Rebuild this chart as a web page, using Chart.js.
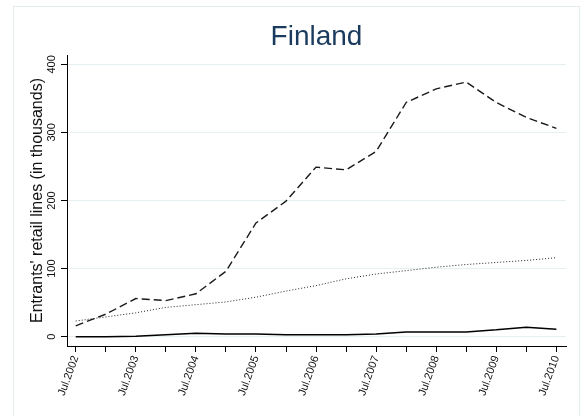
<!DOCTYPE html>
<html>
<head>
<meta charset="utf-8">
<script src="https://cdn.jsdelivr.net/npm/chart.js@4"></script>
<style>
  html, body { margin: 0; padding: 0; background: #fff; }
  canvas { display: block; }
</style>
</head>
<body>
<canvas id="finlandChart" width="585" height="416"></canvas>
<script>
// half-year periods, labels shown only for July
const periods = ["Jul.2002", "Jan.2003", "Jul.2003", "Jan.2004", "Jul.2004", "Jan.2005", "Jul.2005", "Jan.2006",
	"Jul.2006", "Jan.2007", "Jul.2007", "Jan.2008", "Jul.2008", "Jan.2009", "Jul.2009", "Jan.2010", "Jul.2010"];

// Entrants' retail lines (in thousands)
const dashedSeries = [16, 33, 56, 53, 63, 96, 167, 199, 249, 245, 272, 344, 364, 374, 344, 322, 306];
const dottedSeries = [23, 29, 35, 43, 47, 51, 58, 67, 75, 85, 92, 97, 102, 106, 109, 112, 116];
const solidSeries = [0, 0, 0.5, 3, 5, 4, 4, 3, 3, 3, 4, 7, 7, 7, 10, 14, 11];

const yTicks = [0, 100, 200, 300, 400];

const toPoints = arr => arr.map((v, i) => ({ x: i, y: v }));

// faint outer frame + title centred on the plot
const framePlugin = {
	id: 'frame',
	beforeDraw(chart) {
		const ctx = chart.ctx;
		ctx.save();
		ctx.fillStyle = '#fff';
		ctx.fillRect(0, 0, chart.width, chart.height);
		ctx.strokeStyle = '#e4ecee';
		ctx.lineWidth = 1;
		ctx.strokeRect(13.5, 6.5, 566, 420);
		ctx.restore();
	},
	afterDraw(chart) {
		const ctx = chart.ctx;
		const area = chart.chartArea;
		ctx.save();
		ctx.fillStyle = '#1a3a5e';
		ctx.font = '28px "Liberation Sans", Arial, sans-serif';
		ctx.textAlign = 'center';
		ctx.textBaseline = 'alphabetic';
		ctx.fillText('Finland', (area.left + area.right) / 2, 45);
		ctx.restore();
	}
};

const config = {
	type: 'line',
	data: {
		datasets: [{
			data: toPoints(dashedSeries),
			borderColor: '#1a1a1a',
			borderWidth: 1.4,
			borderDash: [8, 4]
		}, {
			data: toPoints(dottedSeries),
			borderColor: '#222',
			borderWidth: 1,
			borderDash: [1, 2]
		}, {
			data: toPoints(solidSeries),
			borderColor: '#000',
			borderWidth: 1.5
		}]
	},
	options: {
		responsive: false,
		animation: false,
		events: [],
		layout: { padding: { left: 13, right: 19, top: 55, bottom: 0 } },
		elements: {
			point: { radius: 0 },
			line: { tension: 0, fill: false }
		},
		plugins: {
			legend: { display: false },
			title: { display: false },
			tooltip: { enabled: false }
		},
		scales: {
			x: {
				type: 'linear',
				min: -0.29,
				max: 16.32,
				afterFit(scale) {
					scale.height = 70;
					scale.paddingLeft = 0;
					scale.paddingRight = 0;
				},
				grid: { drawOnChartArea: false, drawTicks: true, tickLength: 6, tickColor: '#000' },
				border: { display: true, color: '#000', width: 1 },
				ticks: {
					stepSize: 1,
					includeBounds: false,
					autoSkip: false,
					minRotation: 70,
					maxRotation: 70,
					padding: 2,
					color: '#111',
					font: { family: '"Liberation Sans", Arial, sans-serif', size: 11 },
					callback: v => (Number.isInteger(v) && periods[v].startsWith('Jul')) ? periods[v] : ''
				}
			},
			y: {
				min: -13.7,
				max: 413.7,
				afterFit(scale) {
					scale.width = 54;
				},
				afterBuildTicks(scale) {
					scale.ticks = yTicks.map(v => ({ value: v }));
				},
				grid: { color: '#e6eff1', lineWidth: 1, drawTicks: true, tickLength: 6, tickColor: '#000' },
				border: { display: true, color: '#000', width: 1 },
				title: {
					display: true,
					text: "Entrants' retail lines (in thousands)",
					color: '#111',
					font: { family: '"Liberation Sans", Arial, sans-serif', size: 16 },
					padding: { top: 15, bottom: 0 }
				},
				ticks: {
					minRotation: 90,
					maxRotation: 90,
					crossAlign: 'center',
					padding: 0,
					color: '#111',
					font: { family: '"Liberation Sans", Arial, sans-serif', size: 11 }
				}
			}
		}
	},
	plugins: [framePlugin]
};

const finlandChart = new Chart(document.getElementById('finlandChart'), config);
</script>
</body>
</html>
